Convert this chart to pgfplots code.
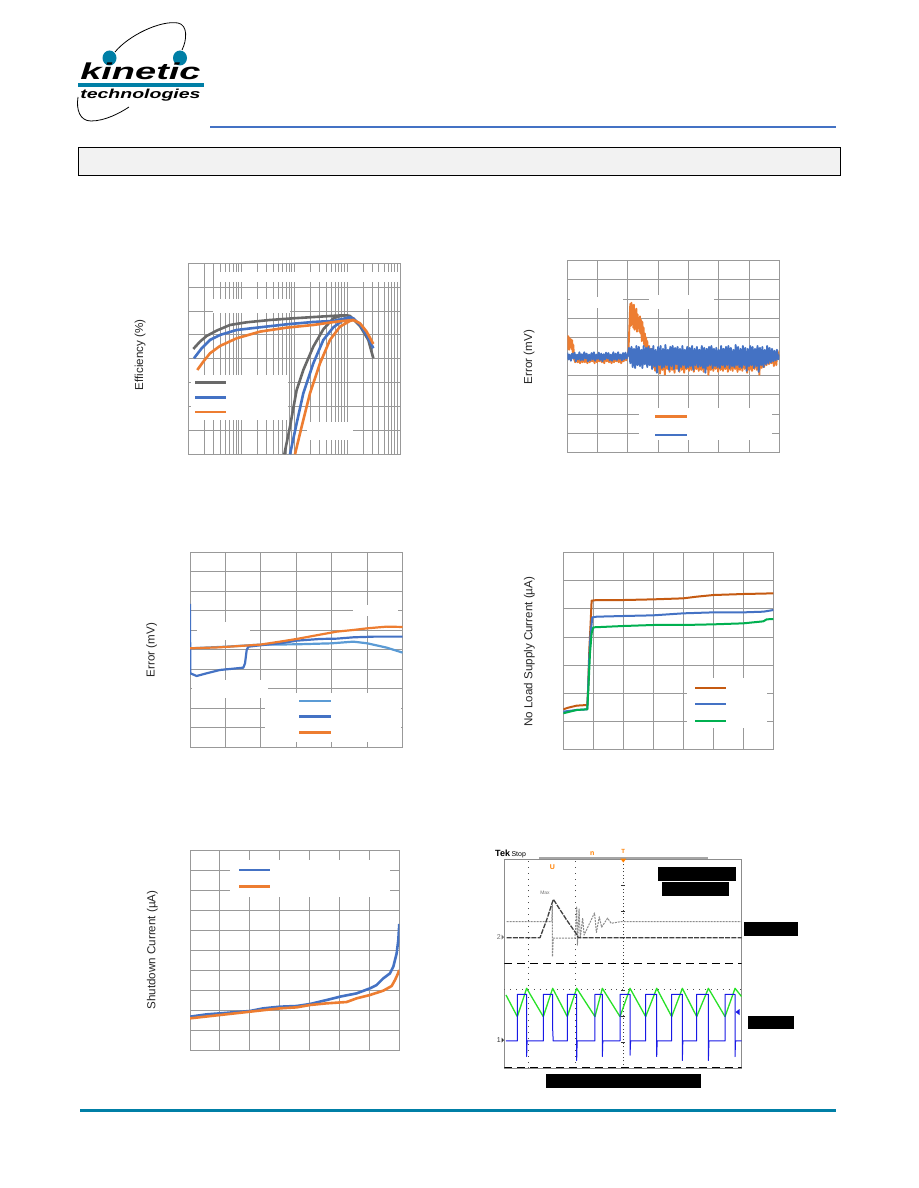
\documentclass[border=0pt]{standalone}
\usepackage{fontspec}
\setmainfont{Liberation Sans}
\usepackage{pgfplots}
\pgfplotsset{compat=1.18}
\definecolor{gridc}{RGB}{153,153,153}
\definecolor{kgray}{RGB}{105,105,105}
\definecolor{kblue}{RGB}{68,114,196}
\definecolor{korange}{RGB}{237,125,49}
\definecolor{klblue}{RGB}{91,155,213}
\definecolor{kbrown}{RGB}{197,90,17}
\definecolor{kgreen}{RGB}{0,176,80}
\definecolor{tealc}{RGB}{0,127,166}
\definecolor{hdrblue}{RGB}{68,114,196}
\definecolor{boxgray}{RGB}{242,242,242}
\definecolor{sgreen}{RGB}{40,225,40}
\definecolor{sblue}{RGB}{25,25,230}
\definecolor{sorange}{RGB}{255,128,0}
\pgfplotsset{
  kt/.style={scale only axis, anchor=north west, xticklabels={}, yticklabels={},
    major tick length=0pt, minor tick length=0pt,
    axis line style={draw=gridc, line width=0.9pt},
    grid=major, major grid style={draw=gridc, line width=0.9pt},
    minor grid style={draw=gridc, line width=0.9pt},
    every axis plot/.append style={line join=round, no marks}},
}
\newcommand{\ylab}[3]{\node[rotate=90, text=black!85, inner sep=0pt] at (#1,#2) {\fontsize{11.6}{13}\selectfont #3};}
\begin{document}
\begin{tikzpicture}
\fill[white] (0pt,0pt) rectangle (918pt,-1188pt);
\path[use as bounding box] (0pt,0pt) rectangle (918pt,-1188pt);

% ---------------- Chart 1: Efficiency
\begin{axis}[kt, at={(188.3pt,-263.3pt)}, width=211.7pt, height=191pt,
  xmin=0, xmax=4, ymin=20, ymax=100, xtick={0,1,2,3,4}, ytick={20,30,...,100},
  minor xtick={0.30103,0.47712,0.60206,0.69897,0.77815,0.84510,0.90309,0.95424,
  1.30103,1.47712,1.60206,1.69897,1.77815,1.84510,1.90309,1.95424,
  2.30103,2.47712,2.60206,2.69897,2.77815,2.84510,2.90309,2.95424,
  3.30103,3.47712,3.60206,3.69897,3.77815,3.84510,3.90309,3.95424}, grid=both]
\addplot[kgray, line width=2.6pt] coordinates {(0.0945,64.12) (0.2205,67.19) (0.3465,69.56) (0.5354,71.80) (0.7874,74.17) (1.1024,75.29) (1.5433,76.26) (1.9843,76.96) (2.4882,77.66) (2.8031,78.08) (2.9921,78.22) (3.0551,77.94) (3.2441,73.75) (3.4016,67.89) (3.4961,60.21)};
\addplot[kgray, line width=2.6pt] coordinates {(1.8142,20) (1.9213,31.59) (2.0472,46.95) (2.1732,55.32) (2.3622,65.10) (2.5512,72.36) (2.7402,76.96) (2.8976,78.08) (2.9921,78.22)};
\addplot[kblue, line width=2.6pt] coordinates {(0.1071,60.21) (0.252,64.40) (0.4094,67.89) (0.5984,69.98) (0.9134,72.08) (1.3543,73.19) (1.8583,74.45) (2.3622,75.43) (2.7402,75.85) (3.0551,77.38) (3.1181,76.96) (3.2441,74.17) (3.3701,69.98) (3.4961,64.40)};
\addplot[kblue, line width=2.6pt] coordinates {(1.9213,20) (2.0472,32.98) (2.1732,45.55) (2.3622,58.11) (2.5512,67.89) (2.7402,73.19) (2.9291,76.26) (3.0551,77.38)};
\addplot[korange, line width=2.6pt] coordinates {(0.170,55.32) (0.2835,58.81) (0.4094,62.30) (0.5984,65.37) (0.9134,68.59) (1.3543,71.38) (1.8583,73.05) (2.3622,74.17) (2.8031,75.57) (3.1181,76.26) (3.2441,74.87) (3.3701,71.38) (3.4961,66.21)};
\addplot[korange, line width=2.6pt] coordinates {(2.0157,20) (2.1417,31.59) (2.2992,45.55) (2.4882,58.11) (2.6772,67.89) (2.8661,73.47) (3.0551,75.85) (3.1181,76.26)};
\end{axis}

% ---------------- Chart 2: Error (mV)
\begin{axis}[kt, at={(567.3pt,-260.7pt)}, width=212pt, height=191.6pt,
  xmin=0, xmax=7, ymin=-5, ymax=5, xtick={0,...,7}, ytick={-5,...,5}]
\addplot[korange, line width=1.9pt] coordinates {
(0.00,1.10)(0.02,0.40)(0.04,1.05)(0.06,0.35)(0.08,0.95)(0.10,0.50)(0.12,0.90)(0.14,0.40)(0.16,0.85)(0.18,0.20)(0.20,0.60)(0.22,-0.10)
(0.26,-0.30)(0.30,0.00)(0.34,-0.30)(0.38,-0.05)(0.42,-0.35)(0.46,0.00)(0.50,-0.30)(0.54,-0.10)(0.58,-0.30)(0.62,0.05)(0.66,-0.35)(0.70,-0.05)
(0.74,-0.30)(0.78,0.00)(0.82,-0.25)(0.86,-0.05)(0.90,-0.35)(0.94,0.00)(0.98,-0.30)(1.02,-0.10)(1.06,-0.25)(1.10,0.05)(1.14,-0.30)(1.18,-0.05)
(1.22,-0.35)(1.26,0.00)(1.30,-0.25)(1.34,-0.05)(1.38,-0.30)(1.42,0.00)(1.46,-0.35)(1.50,-0.10)(1.54,-0.30)(1.58,0.00)(1.62,-0.25)(1.66,-0.05)
(1.70,-0.30)(1.74,0.00)(1.78,-0.35)(1.82,-0.10)(1.86,-0.25)(1.90,0.05)(1.94,-0.20)(1.98,0.00)
(2.02,0.30)(2.06,2.00)(2.08,2.75)(2.10,1.60)(2.12,2.80)(2.14,1.70)(2.16,2.60)(2.18,1.50)(2.20,2.70)(2.22,1.40)(2.24,2.40)(2.26,1.60)
(2.28,2.50)(2.30,1.30)(2.32,2.20)(2.34,1.50)(2.36,2.00)(2.38,1.30)(2.40,2.10)(2.42,1.20)(2.44,1.90)(2.46,0.80)(2.48,1.80)(2.50,0.90)
(2.52,1.50)(2.54,0.60)(2.56,1.20)(2.58,0.50)(2.60,1.00)(2.62,0.40)(2.64,0.80)(2.66,0.20)(2.70,0.55)(2.74,-0.20)(2.78,0.40)
(2.82,-0.60)(2.86,0.30)(2.90,-0.75)(2.94,0.20)(2.98,-0.65)(3.02,0.30)(3.06,-0.90)(3.10,0.25)(3.14,-0.70)(3.18,0.20)(3.22,-0.95)(3.26,0.30)
(3.30,-0.65)(3.34,0.15)(3.38,-0.80)(3.42,0.30)(3.46,-0.70)(3.50,0.20)(3.54,-0.85)(3.58,0.25)(3.62,-0.65)(3.66,0.30)(3.70,-0.80)(3.74,0.20)
(3.78,-0.70)(3.82,0.25)(3.86,-0.85)(3.90,0.30)(3.94,-0.65)(3.98,0.20)(4.02,-0.75)(4.06,0.30)(4.10,-0.70)(4.14,0.25)(4.18,-0.80)(4.22,0.20)
(4.26,-0.65)(4.30,0.30)(4.34,-0.75)(4.38,0.25)(4.42,-0.70)(4.46,0.20)(4.50,-0.80)(4.54,0.30)(4.58,-0.65)(4.62,0.25)(4.66,-0.95)(4.70,0.20)
(4.74,-0.70)(4.78,0.30)(4.82,-0.75)(4.86,0.20)(4.90,-0.65)(4.94,0.25)(4.98,-0.80)(5.02,0.30)(5.06,-0.70)(5.10,0.20)(5.14,-0.75)(5.18,0.25)
(5.22,-0.65)(5.26,0.30)(5.30,-0.80)(5.34,0.20)(5.38,-0.70)(5.42,0.25)(5.46,-0.75)(5.50,0.30)(5.54,-0.65)(5.58,0.20)(5.62,-0.80)(5.66,0.25)
(5.70,-0.70)(5.74,0.30)(5.78,-0.75)(5.82,0.20)(5.86,-0.65)(5.90,0.25)(5.94,-0.85)(5.98,0.30)(6.02,-0.70)(6.06,0.20)(6.10,-0.75)(6.14,0.25)
(6.18,-0.65)(6.22,0.30)(6.26,-0.70)(6.30,0.20)(6.34,-0.95)(6.38,0.25)(6.42,-0.60)(6.46,0.30)(6.50,-0.55)(6.54,0.20)(6.58,-0.45)(6.62,0.25)
(6.66,-0.40)(6.70,0.20)(6.74,-0.35)(6.78,0.25)(6.82,-0.50)(6.86,0.15)(6.90,-0.45)(6.94,0.30)(6.98,0.00)};
\addplot[kblue, line width=1.9pt] coordinates {
(0.00,0.20)(0.04,-0.15)(0.08,0.10)(0.12,-0.22)(0.16,0.15)(0.20,-0.10)(0.24,0.20)(0.28,-0.25)(0.32,0.10)(0.36,-0.15)(0.40,0.22)(0.44,-0.20)
(0.48,0.12)(0.52,-0.18)(0.56,0.22)(0.60,-0.10)(0.64,0.15)(0.68,-0.25)(0.72,0.10)(0.76,-0.20)(0.80,0.18)(0.84,-0.15)(0.88,0.22)(0.92,-0.22)
(0.96,0.10)(1.00,-0.12)(1.04,0.20)(1.08,-0.18)(1.12,0.15)(1.16,-0.25)(1.20,0.12)(1.24,-0.15)(1.28,0.20)(1.32,-0.10)(1.36,0.18)(1.40,-0.20)
(1.44,0.10)(1.48,-0.22)(1.52,0.22)(1.56,-0.15)(1.60,0.15)(1.64,-0.18)(1.68,0.22)(1.72,-0.12)(1.76,0.10)(1.80,-0.20)(1.84,0.18)(1.88,-0.15)
(1.92,0.20)(1.96,-0.10)
(2.00,0.10)(2.04,0.45)(2.08,-0.35)(2.12,0.50)(2.16,-0.55)(2.20,0.40)(2.24,-0.60)(2.28,0.55)(2.32,-0.45)(2.36,0.50)(2.40,-0.50)(2.44,0.35)
(2.48,-0.60)(2.52,0.55)(2.56,-0.40)(2.60,0.45)(2.64,-0.55)(2.68,0.50)(2.72,-0.45)(2.76,0.40)(2.80,-0.65)(2.84,0.55)(2.88,-0.50)(2.92,0.35)
(2.96,-0.85)(3.00,0.50)(3.04,-0.45)(3.08,0.55)(3.12,-0.60)(3.16,0.40)(3.20,-0.55)(3.24,0.60)(3.28,-0.45)(3.32,0.35)(3.36,-0.70)(3.40,0.50)
(3.44,-0.50)(3.48,0.55)(3.52,-0.65)(3.56,0.45)(3.60,-0.40)(3.64,0.50)(3.68,-0.75)(3.72,0.40)(3.76,-0.55)(3.80,0.55)(3.84,-0.45)(3.88,0.35)
(3.92,-0.60)(3.96,0.50)(4.00,-0.55)(4.04,0.45)(4.08,-0.50)(4.12,0.55)(4.16,-0.70)(4.20,0.40)(4.24,-0.45)(4.28,0.50)(4.32,-0.55)(4.36,0.35)
(4.40,-0.50)(4.44,0.55)(4.48,-0.60)(4.52,0.45)(4.56,-0.85)(4.60,0.40)(4.64,-0.50)(4.68,0.50)(4.72,-0.45)(4.76,0.55)(4.80,-0.60)(4.84,0.40)
(4.88,-0.50)(4.92,0.45)(4.96,-0.55)(5.00,0.35)(5.04,-0.60)(5.08,0.55)(5.12,-0.45)(5.16,0.40)(5.20,-0.55)(5.24,0.50)(5.28,-0.45)(5.32,0.55)
(5.36,-0.60)(5.40,0.45)(5.44,-0.50)(5.48,0.35)(5.52,-0.55)(5.56,0.60)(5.60,-0.45)(5.64,0.50)(5.68,-0.55)(5.72,0.40)(5.76,-0.60)(5.80,0.55)
(5.84,-0.45)(5.88,0.45)(5.92,-0.75)(5.96,0.40)(6.00,-0.50)(6.04,0.55)(6.08,-0.45)(6.12,0.50)(6.16,-0.60)(6.20,0.40)(6.24,-0.50)(6.28,0.55)
(6.32,-0.80)(6.36,0.45)(6.40,-0.45)(6.44,0.50)(6.48,-0.55)(6.52,0.35)(6.56,-0.40)(6.60,0.55)(6.64,-0.35)(6.68,0.45)(6.72,-0.30)(6.76,0.40)
(6.80,-0.25)(6.84,0.30)(6.88,-0.20)(6.92,0.35)(6.96,-0.15)(7.00,0.10)};
\end{axis}

% ---------------- Chart 3: Error (mV)
\begin{axis}[kt, at={(190pt,-552.3pt)}, width=212.7pt, height=195pt,
  xmin=0, xmax=6, ymin=-5, ymax=5, xtick={0,...,6}, ytick={-5,...,5}]
\addplot[klblue, line width=2.2pt] coordinates {(0,0.077) (1.035,0.162) (1.975,0.265) (3.01,0.282) (3.997,0.333) (4.608,0.419) (5.003,0.333) (5.549,0.111) (6.0,-0.145)};
\addplot[kblue, line width=2.2pt] coordinates {(0,2.35) (0.005,-0.009) (0.01,-1.205) (0.188,-1.342) (0.47,-1.205) (0.846,-1.034) (1.223,-0.966) (1.505,-0.915) (1.552,-0.692) (1.599,-0.009) (1.646,0.162) (1.975,0.231) (2.539,0.333) (3.01,0.47) (3.668,0.556) (4.138,0.573) (4.608,0.641) (5.173,0.675) (6.0,0.675)};
\addplot[korange, line width=2.2pt] coordinates {(0,0.077) (0.846,0.128) (1.975,0.265) (2.539,0.419) (3.01,0.556) (3.668,0.778) (4.138,0.932) (4.608,1.017) (5.003,1.103) (5.549,1.188) (6.0,1.171)};
\end{axis}

% ---------------- Chart 4: No load supply current
\begin{axis}[kt, at={(563.3pt,-552.7pt)}, width=210pt, height=196.6pt,
  xmin=0, xmax=7, ymin=0, ymax=7, xtick={0,...,7}, ytick={0,...,7}]
\addplot[kbrown, line width=2pt] coordinates {(0,1.424) (0.167,1.483) (0.444,1.554) (0.8,1.578) (0.822,1.993) (0.867,3.536) (0.911,4.485) (0.944,5.292) (1.111,5.315) (2.0,5.315) (3.0,5.339) (4.0,5.375) (4.444,5.434) (5.0,5.493) (6.0,5.529) (7.0,5.553)};
\addplot[kblue, line width=2pt] coordinates {(0,1.341) (0.444,1.4) (0.8,1.424) (0.833,2.349) (0.867,3.298) (0.911,4.129) (0.967,4.698) (1.111,4.722) (2.0,4.746) (3.0,4.770) (4.0,4.841) (5.0,4.876) (6.0,4.876) (6.667,4.9) (7.0,4.959)};
\addplot[kgreen, line width=2pt] coordinates {(0,1.282) (0.222,1.341) (0.444,1.4) (0.8,1.424) (0.844,2.349) (0.889,3.417) (0.944,4.129) (1.0,4.343) (2.0,4.39) (3.0,4.426) (4.0,4.426) (5.0,4.449) (6.0,4.485) (6.667,4.556) (6.778,4.627) (7.0,4.639)};
\end{axis}

% ---------------- Chart 5: Shutdown current
\begin{axis}[kt, at={(190pt,-850pt)}, width=209.3pt, height=200pt,
  xmin=0, xmax=7, ymin=0, ymax=10, xtick={0,...,7}, ytick={0,...,10}]
\addplot[kblue, line width=2.6pt] coordinates {(0,1.667) (0.557,1.783) (1.003,1.833) (2.006,1.95) (2.452,2.083) (3.01,2.167) (3.567,2.2) (4.013,2.3) (4.57,2.5) (5.016,2.667) (5.573,2.833) (6.019,3.083) (6.242,3.25) (6.465,3.583) (6.688,3.833) (6.8,4.167) (6.911,4.833) (6.967,5.5) (7.0,6.3)};
\addplot[korange, line width=2.6pt] coordinates {(0,1.583) (1.003,1.75) (2.006,1.917) (3.01,2.083) (3.567,2.133) (4.013,2.25) (4.57,2.333) (5.239,2.4) (5.573,2.583) (6.019,2.75) (6.465,2.967) (6.744,3.2) (6.856,3.5) (6.933,3.75) (7.0,4.0)};
\end{axis}

% ---------------- Chart 6: scope capture
\begin{axis}[scale only axis, anchor=north west, at={(504.3pt,-859.3pt)}, width=237.4pt, height=209pt,
  xmin=0, xmax=10, ymin=0, ymax=8, xtick=\empty, ytick=\empty,
  axis line style={draw=black!45, line width=0.8pt},
  every axis plot/.append style={no marks, line join=round}]
\draw[black!70, dash pattern=on 0.9pt off 5pt, line width=0.9pt] (axis cs:1,0) -- (axis cs:1,8);
\draw[black!70, dash pattern=on 0.9pt off 5pt, line width=0.9pt] (axis cs:3,0) -- (axis cs:3,8);
\draw[black!75, dash pattern=on 1pt off 2.5pt, line width=0.9pt] (axis cs:5,0) -- (axis cs:5,8);
\pgfplotsinvokeforeach{1,2,3,5,6,7}{\draw[black!80, line width=0.8pt] (axis cs:5,#1) ++(-2pt,0) -- ++(4pt,0);}
\draw[black!70, dash pattern=on 0.9pt off 5pt, line width=0.9pt] (axis cs:0,3) -- (axis cs:10,3);
\draw[black, dash pattern=on 8pt off 5pt, line width=1pt] (axis cs:0,4) -- (axis cs:10,4);
\draw[black, dash pattern=on 8pt off 5pt, line width=1pt] (axis cs:0,0.02) -- (axis cs:10,0.02);
\addplot[black!45, line width=1pt, dash pattern=on 2pt off 1pt] coordinates {(0.1,5.614) (1.6,5.614) (2.0,5.614) (2.022,6.25) (2.03,4.27) (2.06,4.98) (2.98,4.98) (3.05,6.2) (3.08,4.7) (3.15,6.1) (3.2,4.98) (3.3,5.75) (3.36,5.1) (3.8,5.95) (3.88,5.2) (4.0,5.8) (4.1,5.4) (4.35,5.75) (4.5,5.55) (4.9,5.614) (10,5.614)};
\addplot[black!75, line width=1.3pt, dash pattern=on 5pt off 1.2pt] coordinates {(0.1,5.0) (1.503,5.0) (1.784,5.678) (2.065,6.469) (2.626,5.678) (3.048,5.129) (3.118,5.0) (10,5.0)};
\addplot[sgreen, line width=1.3pt] coordinates {(0.07,2.807) (0.548,1.978) (0.941,3.062) (1.643,1.978) (2.037,3.062) (2.654,1.978) (3.048,3.062) (3.82,1.978) (4.129,3.062) (4.874,1.978) (5.295,3.062) (5.955,1.978) (6.419,3.062) (7.051,1.978) (7.5,3.062) (8.104,1.978) (8.596,3.062) (9.298,1.978) (9.719,3.062) (10,2.74)};
\addplot[sblue, line width=1pt] coordinates {(0.07,1.046) (0.548,1.046) (0.548,2.833) (0.941,2.833) (0.941,0.45) (0.96,1.046) (1.643,1.046) (1.643,2.833) (2.037,2.833) (2.037,1.5) (2.06,1.046) (2.654,1.046) (2.654,2.833) (3.048,2.833) (3.048,0.3) (3.07,1.046) (3.82,1.046) (3.82,2.833) (4.129,2.833) (4.129,0.45) (4.15,1.046) (4.874,1.046) (4.874,2.833) (5.295,2.833) (5.295,0.5) (5.32,1.046) (5.955,1.046) (5.955,2.833) (6.419,2.833) (6.419,0.45) (6.44,1.046) (7.051,1.046) (7.051,2.833) (7.5,2.833) (7.5,0.3) (7.52,1.046) (8.104,1.046) (8.104,2.833) (8.596,2.833) (8.596,0.3) (8.62,1.046) (9.298,1.046) (9.298,2.833) (9.719,2.833) (9.719,0.45) (9.74,1.046) (10,1.046)};
\end{axis}

% ---------------- page decorations (pt, y downward)
\begin{scope}[x=1pt,y=-1pt]
% header
\draw[hdrblue, line width=2pt] (210,127) -- (836,127);
\filldraw[fill=boxgray, draw=black, line width=1pt] (78,147) rectangle (840,175);
% logo
\draw[black, line width=0.8pt] (115,52) .. controls (128,36) and (160,20) .. (178,23) .. controls (188,25) and (187,40) .. (182,50);
\draw[black, line width=0.8pt] (78,97) .. controls (76,110) and (80,121) .. (91,121) .. controls (105,121) and (120,113) .. (129,107);
\fill[tealc] (109.5,58) ellipse (7pt and 7.5pt);
\fill[tealc] (180,58) ellipse (7pt and 7.5pt);
\node[anchor=base west, inner sep=0pt, xscale=1.65] at (80,80) {\fontsize{23}{23}\selectfont\bfseries\itshape kinetic};
\fill[tealc] (78,82.7) rectangle (204,86.7);
\node[anchor=base west, inner sep=0pt, xscale=1.5] at (80,99) {\fontsize{13}{13}\selectfont\bfseries\itshape technologies};
% footer
\draw[tealc, line width=3pt] (80,1110) -- (836,1110);

% white masks (redacted annotations)
\fill[white] (215,271.7) rectangle (399,281.7);
\fill[white] (213,298.5) rectangle (290,313);
\fill[white] (191,375) rectangle (288,420);
\fill[white] (306.7,421.7) rectangle (353.3,440);
\fill[white] (570,296.5) rectangle (623.3,308.3);
\fill[white] (649.3,295) rectangle (714,309);
\fill[white] (639,408) rectangle (772,440);
\fill[white] (353,605) rectangle (398,616);
\fill[white] (196.7,622) rectangle (250,640);
\fill[white] (191.7,680) rectangle (268.3,698);
\fill[white] (265,693) rectangle (401,742);
\fill[white] (686.7,678.3) rectangle (766.7,728.3);
\fill[white] (230,860) rectangle (390,896.7);

% legend samples
\draw[kgray, line width=2.8pt] (195,382.7) -- (226,382.7);
\draw[kblue, line width=2.8pt] (195,397.3) -- (226,397.3);
\draw[korange, line width=2.8pt] (195,412) -- (226,412);
\draw[korange, line width=2.6pt] (655,416.7) -- (687,416.7);
\draw[kblue, line width=2.6pt] (655,435) -- (687,435);
\draw[klblue, line width=2.6pt] (299.3,701) -- (330.7,701);
\draw[kblue, line width=2.6pt] (299.3,716.7) -- (330.7,716.7);
\draw[korange, line width=2.6pt] (299.3,732.3) -- (330.7,732.3);
\draw[kbrown, line width=2.4pt] (695,687.7) -- (726,687.7);
\draw[kblue, line width=2.4pt] (695,704) -- (726,704);
\draw[kgreen, line width=2.4pt] (695,721) -- (726,721);
\draw[kblue, line width=2.8pt] (239.3,870) -- (270,870);
\draw[korange, line width=2.8pt] (239.3,886.7) -- (270,886.7);

% y labels
\ylab{140}{355}{Efficiency (\%)}
\ylab{529}{357}{Error (mV)}
\ylab{151.7}{650}{Error (mV)}
\ylab{529.3}{651.7}{No Load Supply Current (µA)}
\ylab{152.3}{950}{Shutdown Current (µA)}

% scope decorations
\node[anchor=west, inner sep=0pt] at (495,854) {\fontsize{9}{9}\selectfont\bfseries Tek\,\mdseries\fontsize{7}{7}\selectfont Stop};
\draw[black!35, line width=1.4pt] (539,857.8) -- (708,857.8);
\node[text=sorange, inner sep=0pt] at (592.3,854) {\fontsize{7}{7}\selectfont\bfseries n};
\node[text=sorange, inner sep=0pt] at (623.3,851.5) {\fontsize{6}{6}\selectfont\bfseries T};
\fill[sorange] (620.3,858.5) -- (626.3,858.5) -- (623.3,862.5) -- cycle;
\node[text=sorange, inner sep=0pt] at (552.3,866.7) {\fontsize{7}{7}\selectfont\bfseries U};
\node[text=black!55, inner sep=0pt] at (545,892.3) {\fontsize{5}{5}\selectfont Max};
\node[text=black!55, anchor=east, inner sep=0pt] at (501,937) {\fontsize{7}{7}\selectfont 2};
\fill[black!55] (501.5,934.5) -- (504,937) -- (501.5,939.5) -- cycle;
\node[text=black!80, anchor=east, inner sep=0pt] at (501,1040) {\fontsize{7}{7}\selectfont 1};
\fill[black!80] (501.5,1037.5) -- (504,1040) -- (501.5,1042.5) -- cycle;
\fill[sblue] (739.5,1009) -- (735.5,1012) -- (739.5,1015) -- cycle;
% redaction boxes
\fill[black] (658.3,867.3) rectangle (736,880.7);
\fill[black] (662.3,882.3) rectangle (729,895.7);
\fill[black] (744,922.3) rectangle (797.7,936);
\fill[black] (748.3,1016) rectangle (793.7,1029);
\fill[black] (546,1074.3) rectangle (700.7,1087.7);
\end{scope}
\end{tikzpicture}
\end{document}
